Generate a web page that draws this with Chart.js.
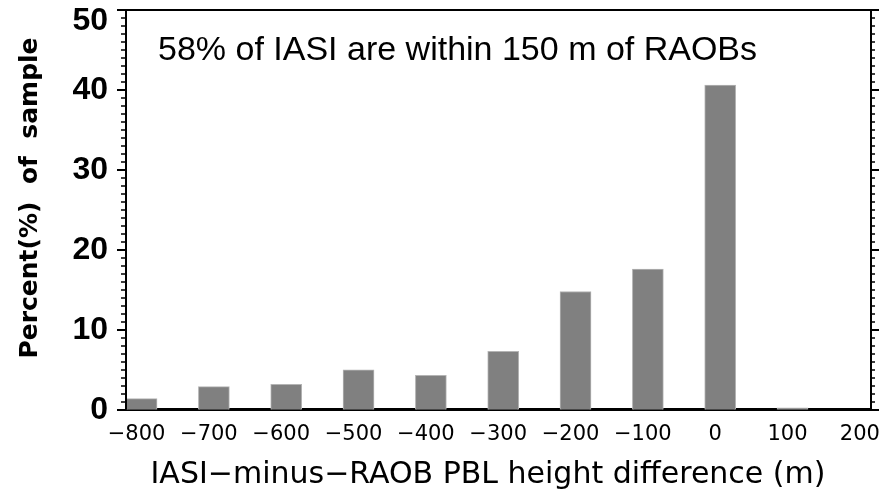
<!DOCTYPE html>
<html>
<head>
<meta charset="utf-8">
<script src="https://cdn.jsdelivr.net/npm/chart.js@4.4.1/dist/chart.umd.min.js"></script>
<style>
  html, body { margin: 0; padding: 0; background: #fff; }
</style>
</head>
<body>
<canvas id="chart" width="891" height="501"></canvas>
<script>
"use strict";

// bin centres (m) and percent of sample per bin
var binCenters = [-800, -700, -600, -500, -400, -300, -200, -100, 0, 100];
var percents   = [1.4, 2.9, 3.2, 5.0, 4.3, 7.3, 14.8, 17.6, 40.6, 0.25];
var xTicks = [-800, -700, -600, -500, -400, -300, -200, -100, 0, 100, 200];
var yTicks = [0, 10, 20, 30, 40, 50];
var yMinorStep = 1;

var xTitle = 'IASI\u2212minus\u2212RAOB PBL height difference (m)';
var yTitle = 'Percent(%)  of  sample';
var note = '58% of IASI are within 150 m of RAOBs';

function fmt(v) {
	return v < 0 ? '\u2212' + Math.abs(v) : String(v);
}

// frame, y ticks + labels, titles and the note
var decorations = {
	id: 'decorations',
	afterDraw: function(chart) {
		var ctx = chart.ctx;
		var area = chart.chartArea;
		var ys = chart.scales.y;
		ctx.save();
		ctx.strokeStyle = '#000';
		ctx.lineWidth = 2;
		ctx.beginPath();
		ctx.moveTo(area.left, area.bottom);
		ctx.lineTo(area.left, area.top);
		ctx.lineTo(area.right, area.top);
		ctx.lineTo(area.right, area.bottom);
		ctx.stroke();

		for (var v = ys.min; v <= ys.max; v += yMinorStep) {
			var py = Math.round(ys.getPixelForValue(v));
			var major = yTicks.indexOf(v) >= 0;
			ctx.lineWidth = major ? 2 : 1.5;
			ctx.beginPath();
			ctx.moveTo(area.left - (major ? 9 : 5), py);
			ctx.lineTo(area.left, py);
			ctx.moveTo(area.right, py);
			ctx.lineTo(area.right + (major ? 8 : 4), py);
			ctx.stroke();
		}

		ctx.fillStyle = '#000';
		ctx.font = 'bold 32px "Liberation Sans"';
		ctx.textAlign = 'right';
		ctx.textBaseline = 'middle';
		yTicks.forEach(function(t) {
			var py = ys.getPixelForValue(t);
			ctx.fillText(String(t), 108, Math.max(py, 21));
		});

		ctx.save();
		ctx.translate(30, 198);
		ctx.rotate(-Math.PI / 2);
		ctx.textAlign = 'center';
		ctx.font = 'bold 25px "DejaVu Sans"';
		ctx.fillText(yTitle, 0, 0);
		ctx.restore();

		ctx.textAlign = 'center';
		ctx.textBaseline = 'alphabetic';
		ctx.font = '30px "DejaVu Sans"';
		ctx.fillText(xTitle, 488, 483);

		ctx.textAlign = 'left';
		ctx.font = '34px "Liberation Sans"';
		ctx.fillText(note, 158, 60);
		ctx.restore();
	}
};

var ctx = document.getElementById('chart').getContext('2d');
new Chart(ctx, {
	type: 'bar',
	data: {
		datasets: [{
			data: binCenters.map(function(x, i) { return {x: x, y: percents[i]}; }),
			backgroundColor: '#808080',
			borderColor: '#b4b4b4',
			borderWidth: 1,
			borderSkipped: 'bottom',
			barThickness: 31
		}]
	},
	options: {
		responsive: false,
		animation: false,
		devicePixelRatio: 1,
		layout: {
			padding: {left: 126, right: 20, top: 10, bottom: 50}
		},
		plugins: {
			legend: {display: false},
			tooltip: {enabled: false}
		},
		scales: {
			x: {
				type: 'linear',
				min: -821.5,
				max: 208.5,
				offset: false,
				afterBuildTicks: function(scale) {
					scale.ticks = xTicks.map(function(v) { return {value: v}; });
				},
				grid: {display: false},
				border: {display: true, color: '#000', width: 3},
				ticks: {
					autoSkip: false,
					maxRotation: 0,
					color: '#000',
					padding: 4,
					labelOffset: -5,
					font: {family: 'DejaVu Sans', size: 21},
					callback: fmt
				}
			},
			y: {
				display: false,
				min: 0,
				max: 50
			}
		}
	},
	plugins: [decorations]
});
</script>
</body>
</html>
